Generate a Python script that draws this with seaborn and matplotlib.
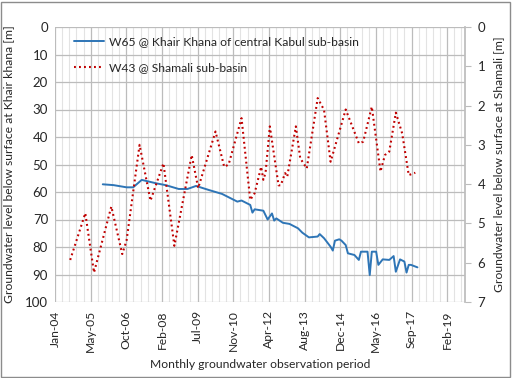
import matplotlib
matplotlib.use("Agg")
import matplotlib.pyplot as plt
import matplotlib.dates as mdates
from matplotlib.patches import Rectangle
import pandas as pd
import seaborn as sns

# * Data
# W65, Khair Khana (left axis, m below surface)
w65_dates = [
    "2005-11", "2006-04", "2006-10", "2007-01", "2007-05", "2007-12",
    "2008-04", "2008-10", "2009-02", "2009-06", "2009-12", "2010-06",
    "2010-10", "2011-01", "2011-03", "2011-07", "2011-08", "2011-09",
    "2012-01", "2012-03", "2012-05", "2012-06", "2012-07", "2012-10",
    "2013-01", "2013-05", "2013-07", "2013-10", "2014-02", "2014-03",
    "2014-05", "2014-08", "2014-09", "2014-10", "2014-12", "2015-01",
    "2015-03", "2015-04", "2015-07", "2015-09", "2015-10", "2016-01",
    "2016-02", "2016-03", "2016-05", "2016-06", "2016-08", "2016-11",
    "2017-01", "2017-02", "2017-04", "2017-06", "2017-07", "2017-08",
    "2017-09", "2017-12",
]
w65_levels = [
    57.2, 57.5, 58.3, 58.3, 55.6, 56.9,
    57.5, 58.9, 58.9, 57.8, 59.3, 60.7,
    62.3, 63.5, 63.1, 64.7, 67.5, 66.3,
    66.8, 70.0, 67.8, 70.4, 69.6, 71.2,
    71.6, 73.2, 74.8, 76.5, 76.2, 75.3,
    76.8, 79.9, 81.3, 77.7, 77.2, 77.7,
    79.3, 82.3, 82.9, 84.7, 81.7, 81.7,
    90.2, 81.7, 81.7, 86.5, 84.5, 84.7,
    83.3, 89.0, 84.5, 85.3, 89.3, 86.5,
    86.5, 87.4,
]

# W43, Shamali (right axis, m below surface)
w43_dates = [
    "2004-08", "2005-03", "2005-07", "2006-03", "2006-08", "2006-10",
    "2007-04", "2007-09", "2008-03", "2008-08", "2009-04", "2009-07",
    "2010-03", "2010-07", "2010-09", "2011-03", "2011-07", "2011-09",
    "2011-12", "2012-01", "2012-02", "2012-04", "2012-08", "2012-09",
    "2012-11", "2012-12", "2013-04", "2013-06", "2013-09", "2014-02",
    "2014-05", "2014-08", "2015-03", "2015-09", "2015-11", "2016-03",
    "2016-07", "2016-09", "2016-11", "2017-02", "2017-05", "2017-08",
    "2017-11",
]
w43_levels = [
    5.93, 4.74, 6.25, 4.57, 5.78, 5.43,
    3.00, 4.42, 3.47, 5.57, 3.26, 4.10,
    2.66, 3.56, 3.50, 2.32, 4.40, 4.23,
    3.56, 3.89, 3.71, 2.53, 4.03, 4.03,
    3.72, 3.81, 2.53, 3.34, 3.60, 1.81,
    2.11, 3.43, 2.10, 2.96, 2.92, 2.03,
    3.68, 3.26, 3.17, 2.18, 2.71, 3.77,
    3.71,
]

w65_label = "W65 @ Khair Khana of central Kabul sub-basin"
w43_label = "W43 @ Shamali sub-basin"

w65_df = pd.DataFrame({"date": pd.to_datetime(w65_dates) + pd.Timedelta(days=14),
                       "level": w65_levels})
w43_df = pd.DataFrame({"date": pd.to_datetime(w43_dates) + pd.Timedelta(days=14),
                       "level": w43_levels})

# * Style
sns.set_theme(style="white")
plt.rcParams["font.family"] = ["Lato", "DejaVu Sans"]
text_color = "#262626"
major_grid = "#bcbcbc"
minor_grid = "#e3e3e3"
fs = 8.7

# * Plot
fig = plt.figure(figsize=(5.12, 3.78), dpi=100)
ax = fig.add_axes([55 / 512, 1 - 302 / 378, 410 / 512, 275 / 378])
ax2 = ax.twinx()

sns.lineplot(data=w65_df, x="date", y="level", ax=ax, color="#2e75b6",
             lw=1.4, label=w65_label, legend=False)
sns.lineplot(data=w43_df, x="date", y="level", ax=ax2, color="#c00000",
             lw=1.5, ls=(0, (0.9, 1.5)), label=w43_label, legend=False)

# x axis: Excel-like date axis, major unit 500 days, minor 100 days
start = pd.Timestamp("2004-01-15")
ax.set_xlim(start, start + pd.Timedelta(days=5750))
ax.set_xticks(pd.date_range(start, periods=12, freq="500D"))
ax.set_xticks(pd.date_range(start, periods=58, freq="100D"), minor=True)
ax.xaxis.set_major_formatter(mdates.DateFormatter("%b-%y"))

ax.set_ylim(100, 0)
ax.set_yticks(range(0, 101, 10))
ax2.set_ylim(7, 0)
ax2.set_yticks(range(0, 8))

ax.grid(True, which="major", axis="both", color=major_grid, lw=0.9)
ax.grid(True, which="minor", axis="x", color=minor_grid, lw=0.8)
ax.set_axisbelow(True)

for a in (ax, ax2):
    for s in a.spines.values():
        s.set_visible(False)
ax2.spines["right"].set_visible(True)
ax2.spines["right"].set_color(major_grid)

ax.tick_params(axis="x", which="both", length=0, pad=6, labelsize=fs,
               labelcolor=text_color, labelrotation=90)
ax.tick_params(axis="y", length=0, pad=5, labelsize=9.5, labelcolor=text_color)
ax2.tick_params(axis="y", length=4, width=0.8, color=major_grid, pad=5,
                labelsize=9.5, labelcolor=text_color)

ax.set_xlabel("Monthly groundwater observation period", fontsize=fs,
              color=text_color, labelpad=5)
ax.set_ylabel("Groundwater level below surface at Khair khana [m]",
              fontsize=fs, color=text_color, labelpad=8)
ax2.set_ylabel("Groundwater level below surface at Shamali [m]",
               fontsize=fs, color=text_color, labelpad=6)

handles = ax.get_lines()[:1] + ax2.get_lines()[:1]
ax2.legend(handles, [w65_label, w43_label], loc="upper left",
           bbox_to_anchor=(0.035, 0.985), frameon=False, fontsize=fs,
           handlelength=2.5, handletextpad=0.4, labelspacing=1.25,
           borderaxespad=0, labelcolor=text_color)

# chart border
fig.patches.append(Rectangle((0.002, 0.003), 0.995, 0.993, transform=fig.transFigure,
                             fill=False, edgecolor="#8c8c8c", lw=1))

fig.savefig("out.png", dpi=100)
